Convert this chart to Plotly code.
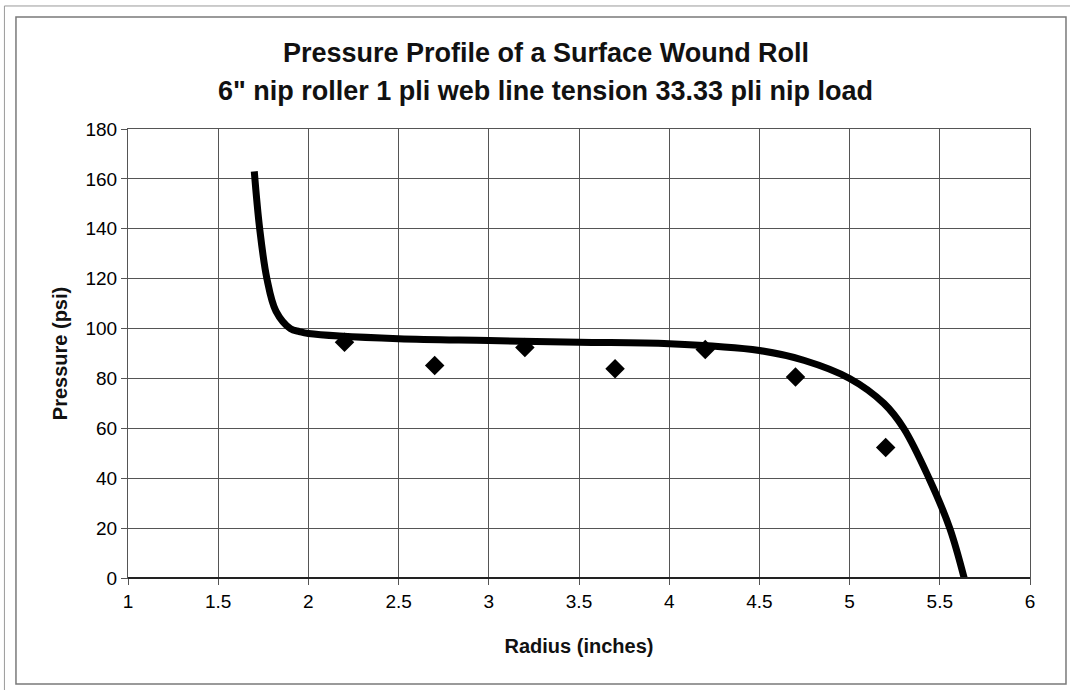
import plotly.graph_objects as go

# Fitted pressure profile through the wound roll (radius in inches, pressure in psi)
curve_radius = [1.70, 1.73, 1.77, 1.82, 1.90, 1.95, 2.00, 2.50, 3.00, 3.50,
                4.00, 4.50, 4.75, 5.00, 5.19, 5.30, 5.44, 5.555, 5.635]
curve_pressure = [163, 140, 120, 107, 100, 98.8, 98.0, 95.9, 95.2, 94.5,
                  93.9, 91.2, 87.2, 80.0, 70.0, 60.0, 40.0, 20.0, 0.0]

# Measured pressures
meas_radius = [2.2, 2.7, 3.2, 3.7, 4.2, 4.7, 5.2]
meas_pressure = [94.5, 85.2, 92.4, 83.9, 91.6, 80.6, 52.3]

x_ticks = [1, 1.5, 2, 2.5, 3, 3.5, 4, 4.5, 5, 5.5, 6]
y_ticks = [0, 20, 40, 60, 80, 100, 120, 140, 160, 180]

title_lines = ["Pressure Profile of a Surface Wound Roll",
               "6\" nip roller 1 pli web line tension 33.33 pli nip load"]

FONT = "Liberation Sans, Arial, sans-serif"
GRID = "#555555"

fig = go.Figure()
fig.add_trace(go.Scatter(
    x=curve_radius, y=curve_pressure, mode="lines",
    line=dict(color="black", width=7, shape="spline", smoothing=1.0),
    hoverinfo="skip", showlegend=False,
))
fig.add_trace(go.Scatter(
    x=meas_radius, y=meas_pressure, mode="markers",
    marker=dict(symbol="diamond", size=15, color="black"),
    showlegend=False,
))

# Frame: page edge lines and the chart border
shapes = [
    dict(type="line", xref="paper", yref="paper", x0=-0.137, x1=1.05, y0=1.274, y1=1.274,
         line=dict(color="#9a9a9a", width=1)),
    dict(type="line", xref="paper", yref="paper", x0=-0.137, x1=-0.137, y0=1.274, y1=-0.25,
         line=dict(color="#9a9a9a", width=1)),
    dict(type="rect", xref="paper", yref="paper", x0=-0.1242, x1=1.0399, y0=1.2494, y1=-0.2361,
         line=dict(color="#7a7a7a", width=1.5)),
    dict(type="line", xref="paper", yref="paper", x0=0, x1=1, y0=0, y1=0,
         line=dict(color="#222222", width=2)),
]

annotations = [
    dict(text=f"<b>{title_lines[0]}</b>", xref="paper", yref="paper",
         x=0.4634, y=(578 - 53) / 449, showarrow=False, xanchor="center", yanchor="middle",
         font=dict(family=FONT, size=27, color="#111")),
    dict(text=f"<b>{title_lines[1]}</b>", xref="paper", yref="paper",
         x=0.4634, y=(578 - 91) / 449, showarrow=False, xanchor="center", yanchor="middle",
         font=dict(family=FONT, size=27, color="#111")),
]

fig.update_layout(
    width=1070, height=690,
    margin=dict(l=128, r=40, t=129, b=112),
    paper_bgcolor="white", plot_bgcolor="white",
    font=dict(family=FONT, size=19, color="#111"),
    shapes=shapes, annotations=annotations,
    xaxis=dict(
        range=[1, 6], tickvals=x_ticks, ticktext=[f"{v:g}" for v in x_ticks],
        showgrid=True, gridcolor=GRID, gridwidth=1,
        showline=True, mirror=True, linecolor=GRID, linewidth=1,
        ticks="outside", ticklen=6, tickcolor=GRID,
        zeroline=False,
        title=dict(text="<b>Radius (inches)</b>", font=dict(size=20), standoff=28),
        tickfont=dict(size=19, color="#000"),
    ),
    yaxis=dict(
        range=[0, 180], tickvals=y_ticks,
        showgrid=True, gridcolor=GRID, gridwidth=1,
        showline=True, mirror=True, linecolor=GRID, linewidth=1,
        ticks="outside", ticklen=6, tickcolor=GRID,
        zeroline=False, ticklabelstandoff=0,
        title=dict(text="<b>Pressure (psi)</b>", font=dict(size=20), standoff=12),
        tickfont=dict(size=19, color="#000"),
    ),
)

fig.write_html("out.html")
